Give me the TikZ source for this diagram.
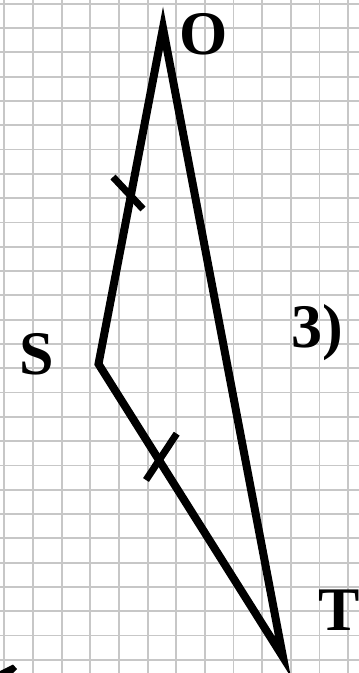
\documentclass[tikz,border=0pt]{standalone}
\usepackage{fontspec}
\setmainfont{Liberation Serif}
\usetikzlibrary{calc}

\begin{document}
\begin{tikzpicture}[x=1pt,y=-1pt,
  gridline/.style={draw=black!22,line width=1.8pt},
  side/.style={draw=black,line width=8pt},
  tickmark/.style={draw=black,line width=7pt},
  lbl/.style={anchor=base,inner sep=0pt,font=\fontsize{62}{62}\selectfont\bfseries}]
 \useasboundingbox (0,0) rectangle (359,673);
 % squared paper
 \begin{scope}
  \clip (0,0) rectangle (359,673);
  \foreach \i in {0,...,12}
   \draw[gridline] (4.35+28.65*\i,0) -- (4.35+28.65*\i,673);
  \foreach \j in {0,...,27}
   \draw[gridline] (0,3.7+24.3*\j) -- (359,3.7+24.3*\j);
  \fill (0,673) -- (0,671) -- (13,664.5) -- (17,669) -- (13,673) -- cycle;
 \end{scope}

 \coordinate (O) at (163,28);
 \coordinate (S) at (98.5,364);
 \coordinate (T) at (283,657);
 \draw[side] (O) -- (S) -- (T) -- cycle;

 % equal sides
 \draw[tickmark] (113,177) -- (143,209);
 \draw[tickmark] (176.7,433.7) -- (146,480);

 \node (lO) [lbl] at (204,54) {O};
 \node (lS) [lbl] at (37,374) {S};
 \node (lT) [lbl] at (339,630) {T};
 \node (l3) [lbl] at (317,347) {3)};
\end{tikzpicture}
\end{document}
